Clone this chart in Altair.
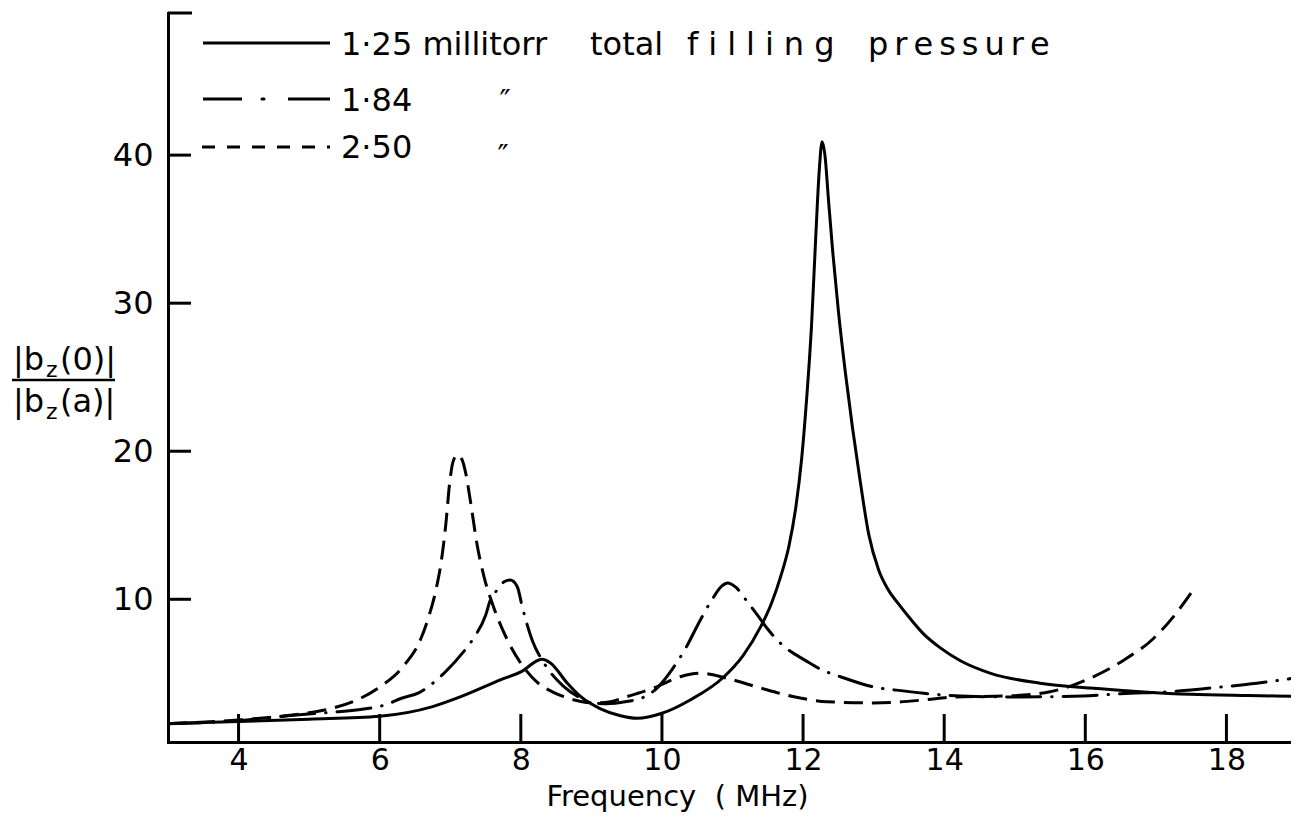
import altair as alt
import pandas as pd

FONT = "DejaVu Sans"

# ---- data ----
# 1.25 millitorr (solid)
f_125 = [3.0, 4.0, 5.0, 6.0, 6.75, 7.15, 7.71, 8.0, 8.3, 8.42, 8.66, 8.85, 9.13, 9.4, 9.65,
         10.0, 10.4, 10.88, 11.15, 11.4, 11.55, 11.68, 11.8, 11.9, 11.98, 12.05, 12.12,
         12.18, 12.23, 12.27, 12.31, 12.36, 12.42, 12.5, 12.6, 12.7, 12.8, 12.93, 13.07,
         13.2, 13.35, 13.5, 13.7, 13.95, 14.23, 14.66, 15.36, 16.07, 16.78, 17.49, 18.3, 19.03]
b_125 = [1.6, 1.75, 1.9, 2.1, 2.75, 3.42, 4.55, 5.1, 5.95, 5.7, 4.33, 3.42, 2.6, 2.15, 1.96,
         2.3, 3.2, 4.77, 6.2, 8.15, 9.7, 11.5, 13.6, 16.3, 19.5, 23.5, 28.5,
         34.5, 39.0, 40.9, 40.0, 37.0, 33.5, 29.5, 25.3, 21.6, 18.3, 14.4, 12.0,
         10.7, 9.7, 8.8, 7.7, 6.7, 5.85, 5.0, 4.33, 4.0, 3.76, 3.58, 3.5, 3.45]

# 1.84 millitorr (dash-dot)
f_184 = [3.0, 4.0, 4.74, 5.26, 5.8, 6.1, 6.3, 6.56, 6.91, 7.19, 7.33, 7.5, 7.57, 7.66, 7.77,
         7.85, 7.95, 8.02, 8.16, 8.33, 8.61, 8.85, 9.0, 9.22, 9.5, 9.7, 9.93, 10.15, 10.36,
         10.5, 10.7, 10.85, 10.93, 11.05, 11.2, 11.37, 11.49, 11.68, 12.06, 12.25, 12.53,
         13.05, 13.29, 13.71, 14.23, 15.0, 15.97, 16.5, 17.32, 17.87, 18.43, 19.03]
b_184 = [1.6, 1.8, 2.15, 2.35, 2.6, 2.9, 3.3, 3.7, 5.0, 6.46, 7.37, 8.9, 9.98, 10.6, 11.2,
         11.3, 10.85, 9.5, 7.25, 5.68, 4.1, 3.32, 3.0, 2.95, 3.1, 3.3, 4.0, 5.3, 6.9,
         8.2, 9.9, 10.9, 11.1, 10.8, 9.9, 8.83, 8.04, 7.03, 5.79, 5.27, 4.77,
         4.03, 3.88, 3.65, 3.47, 3.4, 3.47, 3.62, 3.8, 4.05, 4.33, 4.73]

# 2.50 millitorr (dashed)
f_250 = [3.0, 4.0, 4.7, 5.2, 5.68, 6.01, 6.34, 6.58, 6.7, 6.8, 6.88, 6.94, 6.99, 7.04, 7.1,
         7.17, 7.22, 7.29, 7.38, 7.48, 7.62, 7.81, 8.0, 8.23, 8.47, 8.61, 8.85, 9.05, 9.27,
         9.5, 9.88, 10.26, 10.55, 10.92, 11.4, 11.87, 12.34, 13.0, 13.71, 14.13, 14.9,
         15.5, 15.8, 16.07, 16.55, 16.97, 17.25, 17.54]
b_250 = [1.6, 1.85, 2.15, 2.5, 3.2, 4.1, 5.5, 7.3, 8.9, 10.7, 12.8, 15.2, 17.8, 19.3, 19.75,
         19.4, 18.5, 16.5, 13.7, 11.5, 9.4, 7.25, 5.68, 4.4, 3.7, 3.42, 3.1, 3.0, 3.08,
         3.42, 4.0, 4.77, 5.0, 4.67, 4.0, 3.42, 3.08, 3.0, 3.2, 3.4, 3.47,
         3.75, 4.15, 4.67, 5.9, 7.37, 8.83, 10.7]

x_ticks = [4, 6, 8, 10, 12, 14, 16, 18]
y_ticks = [10, 20, 30, 40]
x_domain = [3.0, 18.915]
y_domain = [0.36, 49.6]

# legend words: (word, left x in page pixels, extra letter spacing in px)
legend_row1 = [("1\u00b725 millitorr", 341, 0), ("total", 590, 0),
               ("filling", 687, 10), ("pressure", 868, 6)]
legend_labels = ["1\u00b784", "2\u00b750"]
ditto = "\u2033"
x_title = "Frequency\u00a0\u00a0(\u00a0MHz)"

# ---- layout (pixels) ----
W, H = 1123, 729
OX, OY = 168, 13  # page position of the plot origin
FS = 32
# approximate DejaVu Sans advance widths (em) for letter-spaced words
ADV = {"f": 0.352, "i": 0.278, "l": 0.278, "n": 0.634, "g": 0.635, "p": 0.635,
       "r": 0.411, "e": 0.615, "s": 0.521, "u": 0.634}


def px(x):
    return x - OX


def py(y):
    return y - OY


xs = alt.Scale(domain=x_domain, nice=False, zero=False)
ys = alt.Scale(domain=y_domain, nice=False, zero=False)

x_axis = alt.Axis(values=x_ticks, labelFontSize=30, labelFont=FONT, labelColor="black",
                  labelPadding=3, ticks=False, tickSize=0, domainColor="black",
                  domainWidth=3, domainCap="square", grid=False, format="d",
                  title=x_title, titleFont=FONT, titleFontSize=29, titleFontWeight="normal",
                  titleColor="black", titleX=509, titleY=63, titleAlign="center",
                  titleBaseline="alphabetic")
y_axis = alt.Axis(values=y_ticks, labelFontSize=32, labelFont=FONT, labelColor="black",
                  labelPadding=15, ticks=False, tickSize=0, domainColor="black",
                  domainWidth=3, domainCap="square", grid=False, title=None, format="d")


def curve(f, b, dash=None, cap="butt"):
    df = pd.DataFrame({"f": f, "b": b})
    kw = dict(color="black", strokeWidth=3, interpolate="monotone", strokeCap=cap,
              clip=True)
    if dash is not None:
        kw["strokeDash"] = dash
    return alt.Chart(df).mark_line(**kw).encode(
        x=alt.X("f:Q", scale=xs, axis=x_axis),
        y=alt.Y("b:Q", scale=ys, axis=y_axis),
    )


one = pd.DataFrame({"k": [0]})


def seg(x1, x2, y, width=3, dash=None, cap="butt"):
    kw = dict(color="black", strokeWidth=width, strokeCap=cap)
    if dash is not None:
        kw["strokeDash"] = dash
    return alt.Chart(one).mark_rule(**kw).encode(
        x=alt.value(px(x1)), x2=alt.value(px(x2)), y=alt.value(py(y)))


def txt(s, x, y, size=FS, align="left"):
    return alt.Chart(pd.DataFrame({"t": [s]})).mark_text(
        font=FONT, fontSize=size, color="black", align=align, baseline="alphabetic"
    ).encode(x=alt.value(px(x)), y=alt.value(py(y)), text="t:N")


def word(s, x, y, extra):
    if extra == 0:
        return [txt(s, x, y)]
    out = []
    for ch in s:
        out.append(txt(ch, x, y))
        x += ADV.get(ch, 0.6) * FS + extra
    return out


solid = curve(f_125, b_125)
dashdot = curve(f_184, b_184, dash=[34, 11, 0.5, 11], cap="round")
dashed = curve(f_250, b_250, dash=[19, 9])

# inward ticks
xt = alt.Chart(pd.DataFrame({"v": x_ticks})).mark_rule(color="black", strokeWidth=3).encode(
    x=alt.X("v:Q", scale=xs), y=alt.value(H), y2=alt.value(H - 28))
yt = alt.Chart(pd.DataFrame({"v": y_ticks})).mark_rule(color="black", strokeWidth=3).encode(
    y=alt.Y("v:Q", scale=ys), x=alt.value(0), x2=alt.value(23))
top_tick = seg(168, 192, 13)

# legend
leg = [seg(203, 330, 43)]
for w, x, e in legend_row1:
    leg += word(w, x, 55, e)
leg += [
    seg(203, 242, 99), seg(262, 264, 99, cap="round"), seg(288, 330, 99),
    txt(legend_labels[0], 341, 111),
    txt(ditto, 505, 111, size=30, align="center"),
    seg(202, 330, 147, dash=[13, 12]),
    txt(legend_labels[1], 341, 158),
    txt(ditto, 503, 166, size=30, align="center"),
]

# y-axis title as a fraction
frac = [
    txt("|b", 13, 370), txt("z", 46, 377, size=22), txt("(0)|", 60, 370),
    seg(12, 115, 380, width=2.5),
    txt("|b", 13, 412), txt("z", 46, 419, size=22), txt("(a)|", 60, 412),
]

chart = alt.layer(solid, dashdot, dashed, xt, yt, top_tick, *leg, *frac).properties(
    width=W, height=H,
    padding={"left": 160, "top": 5, "right": 0, "bottom": 70},
    autosize=alt.AutoSizeParams(type="none"),
    background="white",
).configure_view(strokeWidth=0)

chart.save("out.html", embed_options={"renderer": "svg", "actions": False})
